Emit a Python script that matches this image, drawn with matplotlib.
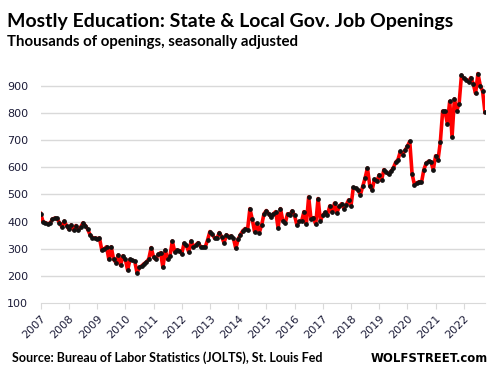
import matplotlib
matplotlib.use("Agg")
import matplotlib.pyplot as plt
import numpy as np

# monthly job openings, thousands (Jan 2007 - Oct 2022)
y2007_2010 = [430, 400, 396, 393, 394, 410, 413, 412, 395, 382, 402, 386,
              372, 388, 370, 386, 368, 380, 396, 386, 372, 352, 342, 340,
              338, 340, 296, 300, 308, 262, 308, 262, 250, 278, 240, 275,
              262, 222, 262, 258, 255, 212, 232, 238, 246, 252, 264, 305]
y2011_2016 = [270, 262, 280, 286, 232, 296, 262, 274, 329, 290, 296, 294,
              282, 321, 313, 288, 329, 306, 315, 323, 309, 306, 307, 333,
              364, 354, 339, 340, 360, 345, 322, 352, 345, 348, 339, 302,
              336, 353, 367, 375, 370, 448, 409, 363, 394, 360, 388, 429,
              441, 429, 417, 429, 437, 376, 448, 403, 394, 429, 426, 440,
              423, 388, 401, 402, 437, 391, 491, 409, 415, 391, 485, 404]
y2017_2022 = [423, 434, 425, 458, 434, 468, 432, 456, 466, 448, 462, 480,
              458, 526, 523, 517, 499, 530, 560, 597, 532, 517, 556, 548,
              572, 552, 591, 581, 575, 585, 597, 618, 628, 658, 646, 662,
              677, 695, 575, 536, 542, 547, 544, 591, 615, 622, 620, 591,
              642, 626, 691, 806, 806, 760, 842, 711, 851, 808, 834, 938,
              926, 922, 914, 929, 907, 871, 944, 900, 879, 802]
years = [str(y) for y in range(2007, 2023)]
yticks = [100, 200, 300, 400, 500, 600, 700, 800, 900]

openings = y2007_2010 + y2011_2016 + y2017_2022
x = np.arange(len(openings))

fig = plt.figure(figsize=(4.92, 3.76), dpi=100, facecolor='white')
ax = fig.add_axes([0.0827, 0.193, 0.903, 0.623])

for v in yticks[1:]:
  ax.axhline(v, color='#d9d9d9', lw=1.0, zorder=0)

ax.plot(x, openings, color='#ff0000', lw=2.6, zorder=2, solid_joinstyle='round')
ax.plot(x, openings, ls='none', marker='o', ms=2.4, color='#111111', zorder=3)

ax.set_xlim(0, len(openings) - 1)
ax.set_ylim(100, 960)
ax.set_yticks(yticks)
ax.set_xticks(np.arange(len(years)) * 12)
ax.set_xticklabels(years)

for s in ['top', 'right', 'left']:
  ax.spines[s].set_visible(False)
ax.spines['bottom'].set_color('#d9d9d9')
ax.tick_params(axis='y', length=0, pad=9, labelsize=8, labelcolor='#1c1c38')
ax.tick_params(axis='x', length=4, color='#d9d9d9', pad=3, labelsize=8, labelcolor='#1c1c38')
for lab in ax.get_xticklabels():
  lab.set_rotation(45)
  lab.set_ha('right')
  lab.set_rotation_mode('anchor')

narrow = ['Liberation Sans Narrow', 'Lato', 'DejaVu Sans']
fig.text(7/492, 1 - 27/376, 'Mostly Education: State & Local Gov. Job Openings',
         fontsize=14, fontweight='bold', family=narrow, va='baseline')
fig.text(7/492, 1 - 46/376, 'Thousands of openings, seasonally adjusted',
         fontsize=10.8, fontweight='bold', family=narrow, va='baseline')
fig.text(12/492, 1 - 362/376, 'Source: Bureau of Labor Statistics (JOLTS), St. Louis Fed',
         fontsize=9, fontweight='bold', family=narrow, va='baseline')
fig.text(488/492, 1 - 362/376, 'WOLFSTREET.com', fontsize=8.4, fontweight='bold',
         family=['DejaVu Sans'], ha='right', va='baseline')

fig.savefig('out.png', dpi=100, facecolor='white')
